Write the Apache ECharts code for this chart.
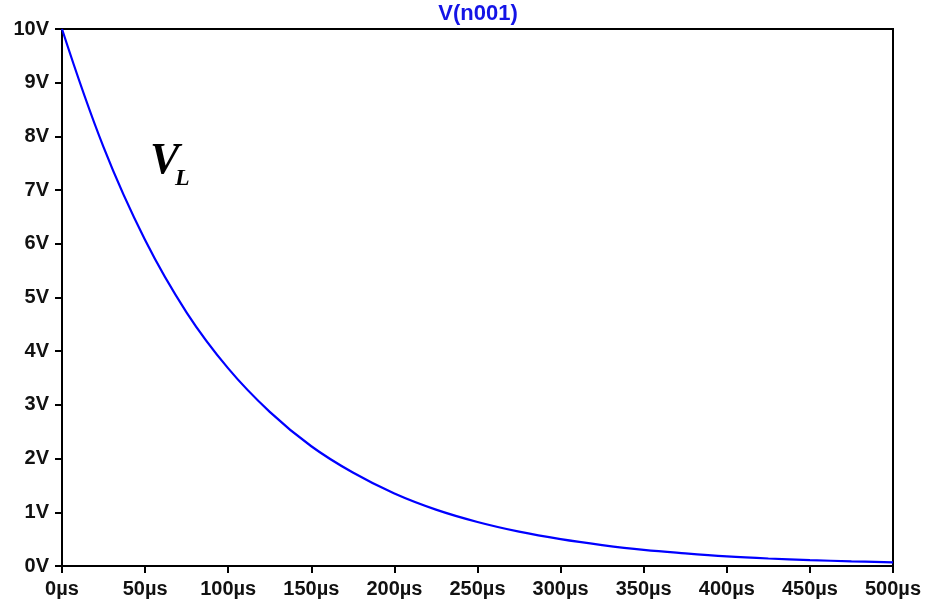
<!DOCTYPE html>
<html><head><meta charset="utf-8">
<script src="https://cdn.jsdelivr.net/npm/echarts@6/dist/echarts.min.js"></script>
<style>html,body{margin:0;padding:0;background:#fff}#c{width:935px;height:604px}</style>
</head><body><div id="c"></div>
<script>
const title = "V(n001)";
const timeUs = [0,25,50,75,100,125,150,175,200,225,250,275,300,325,350,375,400,425,450,475,500];
const voltage = [10,7.8,6.07,4.72,3.68,2.87,2.23,1.74,1.35,1.05,0.82,0.64,0.50,0.39,0.30,0.235,0.18,0.14,0.11,0.087,0.067];
const xTicks = {min:0,max:500,interval:50,unit:"µs"};
const yTicks = {min:0,max:10,interval:1,unit:"V"};

const chart = echarts.init(document.getElementById('c'));
const labelFont = {fontFamily:'Liberation Sans, Arial', fontWeight:'bold', fontSize:20, color:'#111'};
const serif = 'Liberation Serif, Times New Roman';
chart.setOption({
  animation:false,
  backgroundColor:'#fff',
  grid:{left:62,right:42,top:29,bottom:38,show:true,borderColor:'#000',borderWidth:2,backgroundColor:'transparent'},
  xAxis:{type:'value',min:xTicks.min,max:xTicks.max,interval:xTicks.interval,
    axisLine:{show:true,onZero:false,lineStyle:{color:'#000',width:2}},
    axisTick:{show:true,inside:false,length:7,lineStyle:{color:'#000',width:2}},
    splitLine:{show:false},
    axisLabel:Object.assign({margin:13,formatter:v=>v+xTicks.unit},labelFont)},
  yAxis:{type:'value',min:yTicks.min,max:yTicks.max,interval:yTicks.interval,
    axisLine:{show:true,onZero:false,lineStyle:{color:'#000',width:2}},
    axisTick:{show:true,inside:false,length:7,lineStyle:{color:'#000',width:2}},
    splitLine:{show:false},
    axisLabel:Object.assign({margin:13,formatter:v=>v+yTicks.unit},labelFont)},
  series:[{type:'line',data:timeUs.map((t,i)=>[t,voltage[i]]),smooth:0.4,showSymbol:false,
    lineStyle:{color:'#0000ff',width:2.2}}],
  graphic:[
    {type:'text',x:478,y:14,style:{text:title,font:'bold 22px Liberation Sans, Arial',fill:'#1414e6',align:'center',verticalAlign:'middle'}},
    {type:'text',left:150,top:140,style:{text:'V',font:'italic bold 44px '+serif,fill:'#000'}},
    {type:'text',left:175,top:167,style:{text:'L',font:'italic bold 24px '+serif,fill:'#000'}}
  ]
});
</script></body></html>
